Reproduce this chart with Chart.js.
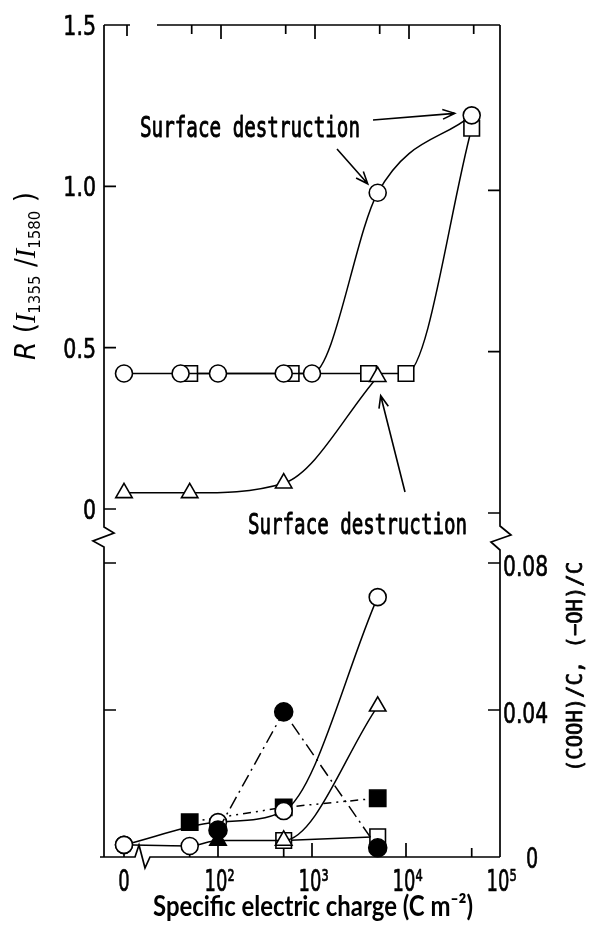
<!DOCTYPE html>
<html>
<head>
<meta charset="utf-8">
<script src="https://cdn.jsdelivr.net/npm/chart.js@4.4.1/dist/chart.umd.min.js"></script>
<style>
html,body{margin:0;padding:0;background:#fff;}
#wrap{width:592px;height:933px;}
canvas{display:block;}
</style>
</head>
<body>
<div id="wrap"><canvas id="c" width="592" height="933"></canvas></div>
<script>
// ---- data (x: specific electric charge, C m^-2; 0 = untreated, shown at the "0" break) ----
// Upper panel: R = I1355/I1580
const rCircleX   = [0, 40, 100, 500, 1000, 5000, 50000];
const rCircleY   = [0.42, 0.42, 0.42, 0.42, 0.42, 0.98, 1.22];
const rSquareX   = [50, 600, 4000, 10000, 50000];
const rSquareY   = [0.42, 0.42, 0.42, 0.42, 1.18];
const rTriangleX = [0, 50, 500, 5000];
const rTriangleY = [0.05, 0.05, 0.08, 0.41];

// Lower panel: (COOH)/C (open symbols) and (-OH)/C (filled symbols)
const coohCircleX   = [0, 100, 500, 5000];
const coohCircleY   = [0.0033, 0.0095, 0.0125, 0.0707];
const coohTriangleX = [0, 50, 100, 500, 5000];
const coohTriangleY = [0.0033, 0.0030, 0.0045, 0.0045, 0.041];
const coohSquareX   = [500, 5000];
const coohSquareY   = [0.0045, 0.0055];
const ohCircleX     = [100, 500, 5000];
const ohCircleY     = [0.0073, 0.0395, 0.0025];
const ohSquareX     = [50, 500, 5000];
const ohSquareY     = [0.0095, 0.0135, 0.016];

// ---- ticks ----
const xTickValues  = [0, 100, 1000, 10000, 100000];
const xTickLabels  = ['0', '10²', '10³', '10⁴', '10⁵'];
const xMinorTicks  = [50, 500, 5000, 50000];
const rTickValues  = [0, 0.5, 1.0, 1.5];
const rTickLabels  = ['0', '0.5', '1.0', '1.5'];
const fTickValues  = [0, 0.04, 0.08];
const fTickLabels  = ['0', '0.04', '0.08'];

const ZERO_AT = 10;                       // axis position used for charge "0"
const px  = v => (v === 0 ? ZERO_AT : v);
const pts = (xs, ys) => xs.map((x, i) => ({x: px(x), y: ys[i]}));

function mk(data, axis, style, radius, fill, extra) {
  return Object.assign({
    data, yAxisID: axis, pointStyle: style, pointRadius: radius, pointHoverRadius: radius,
    pointBackgroundColor: fill, pointBorderColor: '#000', pointBorderWidth: 1.6,
    borderColor: '#000', borderWidth: 1.5, fill: false, clip: false, tension: 0
  }, extra || {});
}

function txt(c, s, x, y, o) {
  o = o || {};
  c.save();
  c.translate(x, y);
  if (o.rot) c.rotate(o.rot);
  c.font = o.font || '27px "DejaVu Sans Mono"';
  const w = c.measureText(s).width;
  let sx = o.sx || 1;
  if (o.width) sx = o.width / w;
  c.scale(sx, 1);
  c.textAlign = o.align || 'left';
  c.textBaseline = 'alphabetic';
  c.fillStyle = '#000';
  c.fillText(s, 0, 0);
  if (o.stroke) { c.strokeStyle = '#000'; c.lineWidth = o.stroke; c.lineJoin = 'round'; c.strokeText(s, 0, 0); }
  c.restore();
  return w * sx;
}

function arrow(c, x1, y1, x2, y2) {
  const a = Math.atan2(y2 - y1, x2 - x1), h = 13, s = 0.38;
  c.beginPath();
  c.moveTo(x1, y1); c.lineTo(x2, y2);
  c.moveTo(x2 - h * Math.cos(a - s), y2 - h * Math.sin(a - s));
  c.lineTo(x2, y2);
  c.lineTo(x2 - h * Math.cos(a + s), y2 - h * Math.sin(a + s));
  c.stroke();
}

const framePlugin = {
  id: 'frame',
  beforeDraw(chart) {
    const c = chart.ctx;
    c.save(); c.fillStyle = '#fff'; c.fillRect(0, 0, chart.width, chart.height); c.restore();
  },
  beforeDatasetsDraw(chart) {
    const c = chart.ctx, a = chart.chartArea;
    const X = chart.scales.x, R = chart.scales.yR, F = chart.scales.yF;
    const L = a.left, Rt = a.right, T = a.top, B = a.bottom;
    const x0 = X.getPixelForValue(ZERO_AT);
    const yb = (R.getPixelForValue(0) + F.getPixelForValue(0.08)) / 2;
    c.save();
    c.strokeStyle = '#000'; c.lineWidth = 1.7; c.lineJoin = 'miter'; c.lineCap = 'butt';
    // left axis with break
    c.beginPath();
    c.moveTo(L, T); c.lineTo(L, yb - 9); c.lineTo(L + 10, yb - 3); c.lineTo(L - 11, yb + 5); c.lineTo(L, yb + 11); c.lineTo(L, B);
    c.stroke();
    // right axis with break
    c.beginPath();
    c.moveTo(Rt, T); c.lineTo(Rt, yb - 10); c.lineTo(Rt + 11, yb - 1); c.lineTo(Rt - 9, yb + 6); c.lineTo(Rt, yb + 14); c.lineTo(Rt, B);
    c.stroke();
    // top axis with gap
    c.beginPath();
    c.moveTo(L, T); c.lineTo(x0 + 6, T); c.moveTo(x0 + 33, T); c.lineTo(Rt, T);
    c.stroke();
    // bottom axis with break
    c.beginPath();
    c.moveTo(L - 4, B); c.lineTo(x0 + 11, B); c.lineTo(x0 + 15, B - 12); c.lineTo(x0 + 21, B + 11); c.lineTo(x0 + 26, B); c.lineTo(Rt, B);
    c.stroke();
    // x ticks (inward)
    c.beginPath();
    xTickValues.forEach(v => {
      if (v === 100000) return;
      const x = X.getPixelForValue(px(v));
      const len = v === 0 ? 11 : 14;
      c.moveTo(x, B); c.lineTo(x, B - len);
      c.moveTo(x + 3, T); c.lineTo(x + 3, T + len);
    });
    xMinorTicks.forEach(v => {
      const x = X.getPixelForValue(v);
      c.moveTo(x, B); c.lineTo(x, B - 9);
      c.moveTo(x + 2, T); c.lineTo(x + 2, T + 9);
    });
    // y ticks
    rTickValues.forEach(v => {
      if (v === 1.5) return;
      const y = R.getPixelForValue(v);
      c.moveTo(L, y); c.lineTo(L + 12, y);
      c.moveTo(Rt, y + 4); c.lineTo(Rt - 12, y + 4);
    });
    fTickValues.forEach(v => {
      if (v === 0) return;
      const y = F.getPixelForValue(v);
      c.moveTo(L, y); c.lineTo(L + 12, y);
      c.moveTo(Rt, y); c.lineTo(Rt - 12, y);
    });
    c.stroke();
    c.restore();
  },
  afterDraw(chart) {
    const c = chart.ctx, a = chart.chartArea;
    const X = chart.scales.x, R = chart.scales.yR, F = chart.scales.yF;
    c.save();
    c.strokeStyle = '#000'; c.lineWidth = 1.5;
    const lf = '27px "DejaVu Sans"';
    // left tick labels (R)
    rTickValues.forEach((v, i) => {
      txt(c, rTickLabels[i], 96, R.getPixelForValue(v) + 10, {align: 'right', sx: 0.76, font: lf, stroke: 0.7});
    });
    // right tick labels (functional groups)
    fTickValues.forEach((v, i) => {
      const y = F.getPixelForValue(v);
      if (v === 0) txt(c, fTickLabels[i], 526, y + 11, {sx: 0.66, font: '29px "DejaVu Sans"', stroke: 0.7});
      else txt(c, fTickLabels[i], 503, y + 13, {sx: 0.7, font: '29px "DejaVu Sans"', stroke: 0.7});
    });
    // x tick labels
    const xf = '30px "DejaVu Sans"', xsx = 0.6;
    c.font = xf;
    const w10 = c.measureText('10').width * xsx;
    xTickValues.forEach((v, i) => {
      const x = X.getPixelForValue(px(v));
      const lab = xTickLabels[i];
      if (lab === '0') txt(c, lab, x, 891, {align: 'center', sx: xsx, font: xf, stroke: 0.7});
      else txt(c, lab, x - w10 / 2 - 2, 891, {sx: xsx, font: xf, stroke: 0.7});
    });
    // x axis title
    txt(c, 'Specific electric charge (C m⁻²)', 153, 916, {font: 'bold 28px Lato', width: 320});
    // right axis title
    txt(c, '(COOH)/C, (−OH)/C', 582, 772, {rot: -Math.PI / 2, font: '21px "DejaVu Sans Mono"', width: 210, stroke: 0.8});
    // left axis title: R (I1355/I1580)
    const parts = [
      ['R', 'italic 28px "DejaVu Sans"', 0],
      [' (', '28px "DejaVu Sans"', 0],
      ['I', 'italic 30px "Liberation Serif"', 0],
      ['1355', '16px "DejaVu Sans"', 5],
      [' /', '28px "DejaVu Sans"', 0],
      ['I', 'italic 30px "Liberation Serif"', 0],
      ['1580', '16px "DejaVu Sans"', 5],
      [' )', '28px "DejaVu Sans"', 0]
    ];
    let tot = 0;
    parts.forEach(p => { c.font = p[1]; tot += c.measureText(p[0]).width; });
    const k = 168 / tot;
    c.save();
    c.translate(35, 360); c.rotate(-Math.PI / 2); c.scale(k, 1);
    c.fillStyle = '#000'; c.textBaseline = 'alphabetic'; c.textAlign = 'left';
    let cx = 0;
    parts.forEach(p => { c.font = p[1]; c.fillText(p[0], cx, p[2]); cx += c.measureText(p[0]).width; });
    c.restore();
    // annotations
    const af = '28px "DejaVu Sans Mono"';
    txt(c, 'Surface destruction', 140, 137, {font: af, width: 220, stroke: 0.9});
    txt(c, 'Surface destruction', 248, 534, {font: af, width: 219, stroke: 0.9});
    const p1x = X.getPixelForValue(50000), p1y = R.getPixelForValue(1.22);
    const p2x = X.getPixelForValue(5000),  p2y = R.getPixelForValue(0.98);
    const p3x = X.getPixelForValue(5000),  p3y = R.getPixelForValue(0.41);
    c.lineWidth = 1.6;
    arrow(c, 373, 120, p1x - 17, p1y - 2);
    arrow(c, 337, 149, p2x - 10, p2y - 9);
    arrow(c, 405, 492, p3x + 3, p3y + 19);
    c.restore();
  }
};

new Chart(document.getElementById('c').getContext('2d'), {
  type: 'line',
  data: {
    datasets: [
      mk(pts(ohCircleX, ohCircleY), 'yF', 'circle', 9, '#000', {borderDash: [13, 5, 2, 5], label: '(-OH)/C circle'}),
      mk(pts(coohCircleX, coohCircleY), 'yF', 'circle', 8.5, '#fff', {cubicInterpolationMode: 'monotone', label: '(COOH)/C circle'}),
      mk(pts(coohTriangleX, coohTriangleY), 'yF',
         ['circle', 'circle', 'triangle', 'triangle', 'triangle'], [8.5, 8.5, 9.5, 9.5, 9.5],
         ['#fff', '#fff', '#000', '#fff', '#fff'], {cubicInterpolationMode: 'monotone', label: '(COOH)/C triangle'}),
      mk(pts(coohSquareX, coohSquareY), 'yF', 'rect', 11, '#fff', {label: '(COOH)/C square'}),
      mk(pts(ohSquareX, ohSquareY), 'yF', 'rect', 11.5, '#000', {borderDash: [8, 5, 2, 5, 2, 5], label: '(-OH)/C square'}),
      mk(pts(rCircleX, rCircleY), 'yR', 'circle', 8.5, '#fff', {cubicInterpolationMode: 'monotone', label: 'R circle'}),
      mk(pts(rTriangleX, rTriangleY), 'yR', 'triangle', 9.5, '#fff', {cubicInterpolationMode: 'monotone', label: 'R triangle'}),
      mk(pts(rSquareX, rSquareY), 'yR', 'rect', 11, '#fff', {cubicInterpolationMode: 'monotone', label: 'R square'})
    ]
  },
  options: {
    responsive: false,
    animation: false,
    devicePixelRatio: 1,
    layout: {padding: {left: 104, right: 92, top: 25, bottom: 76}},
    plugins: {legend: {display: false}, tooltip: {enabled: false}},
    scales: {
      x:  {type: 'logarithmic', display: false, min: 6.127, max: 100000, bounds: 'data'},
      yR: {type: 'linear', display: false, min: -1.0785, max: 1.5, bounds: 'data'},
      yF: {type: 'linear', display: false, min: 0, max: 0.22639, bounds: 'data'}
    }
  },
  plugins: [framePlugin]
});
</script>
</body>
</html>
